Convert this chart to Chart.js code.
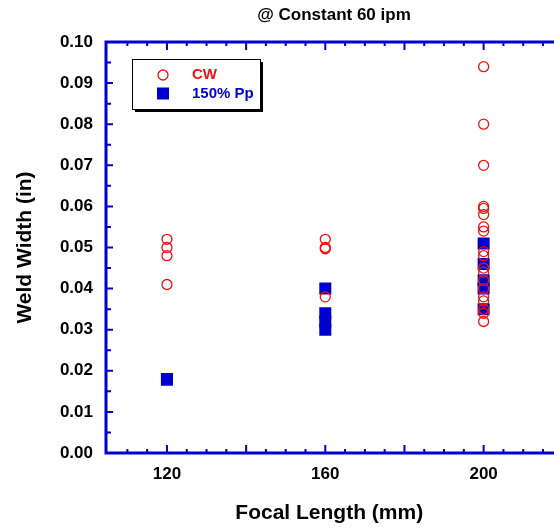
<!DOCTYPE html>
<html>
<head>
<meta charset="utf-8">
<script src="https://cdn.jsdelivr.net/npm/chart.js@4.4.1/dist/chart.umd.min.js"></script>
<style>
html, body { margin: 0; padding: 0; background: #fff; overflow: hidden; }
</style>
</head>
<body>
<canvas id="myChart" width="561" height="529"></canvas>
<script>
Chart.defaults.font.family = 'Arial, "Liberation Sans", sans-serif';
Chart.defaults.font.weight = 'bold';
Chart.defaults.color = '#000';

// focal length groups and the widths measured at each one
var focalLengths = [120, 160, 200];
var cwWidth = [
  [0.052, 0.050, 0.048, 0.041],
  [0.052, 0.050, 0.0497, 0.038],
  [0.094, 0.080, 0.070, 0.060, 0.0595, 0.058, 0.055, 0.054, 0.049, 0.048,
   0.045, 0.044, 0.042, 0.040, 0.038, 0.037, 0.035, 0.034, 0.032]
];
var ppWidth = [
  [0.018, 0.0178],
  [0.040, 0.034, 0.032, 0.030],
  [0.051, 0.046, 0.042, 0.040, 0.035]
];
var xTicks = [120, 160, 200];
var yTicks = [0, 0.01, 0.02, 0.03, 0.04, 0.05, 0.06, 0.07, 0.08, 0.09, 0.10];

var blue = '#0000cc';
var red = '#ee1111';

function toPoints(groups) {
  var pts = [];
  groups.forEach(function (g, i) {
    g.forEach(function (v) { pts.push({ x: focalLengths[i], y: v }); });
  });
  return pts;
}

// frame with inward tick marks
var framePlugin = {
  id: 'frame',
  beforeDatasetsDraw: function (chart) {
    var c = chart.ctx, a = chart.chartArea;
    var xs = chart.scales.x, ys = chart.scales.y;
    c.save();
    c.strokeStyle = blue;
    c.lineWidth = 2;
    c.beginPath();
    for (var v = 110; v <= xs.max; v += 5) {
      var px = xs.getPixelForValue(v);
      var len = v % 20 === 0 ? 8 : 4;
      c.moveTo(px, a.bottom); c.lineTo(px, a.bottom - len);
      c.moveTo(px, a.top); c.lineTo(px, a.top + len);
    }
    for (var i = 1; i < 20; i++) {
      var py = ys.getPixelForValue(i * 0.005);
      var l = i % 2 === 0 ? 7 : 5;
      c.moveTo(a.left, py); c.lineTo(a.left + l, py);
    }
    c.stroke();
    c.lineWidth = 3;
    c.beginPath();
    c.moveTo(a.right + 8, a.top);
    c.lineTo(a.left, a.top);
    c.lineTo(a.left, a.bottom);
    c.lineTo(a.right + 8, a.bottom);
    c.stroke();

    // title over the plot
    c.fillStyle = '#000';
    c.font = 'bold 17px Arial, "Liberation Sans", sans-serif';
    c.textAlign = 'center';
    c.textBaseline = 'middle';
    c.fillText('@ Constant 60 ipm', a.left + 228, 15);
    c.restore();
  }
};

var legendPlugin = {
  id: 'boxLegend',
  afterDatasetsDraw: function (chart) {
    var c = chart.ctx, a = chart.chartArea;
    var x0 = a.left + 26, y0 = a.top + 17, w = 128, h = 50;
    c.save();
    c.fillStyle = '#000';
    c.fillRect(x0 + 3, y0 + 3, w, h);
    c.fillStyle = '#fff';
    c.fillRect(x0, y0, w, h);
    c.strokeStyle = '#000';
    c.lineWidth = 1;
    c.strokeRect(x0 + 0.5, y0 + 0.5, w, h);
    c.font = 'bold 15px Arial, "Liberation Sans", sans-serif';
    c.textBaseline = 'middle';
    c.textAlign = 'left';
    var mx = a.left + 57;
    // CW
    var cy = a.top + 33;
    c.strokeStyle = red;
    c.lineWidth = 1.3;
    c.beginPath();
    c.arc(mx, cy, 5, 0, Math.PI * 2);
    c.stroke();
    c.fillStyle = red;
    c.fillText(chart.data.datasets[0].label, a.left + 86, cy);
    // 150% Pp
    cy = a.top + 51.5;
    c.fillStyle = blue;
    c.fillRect(mx - 6, cy - 6, 12, 12);
    c.fillText(chart.data.datasets[1].label, a.left + 86, cy);
    c.restore();
  }
};

var ctx = document.getElementById('myChart');

var myChart = new Chart(ctx, {
  type: 'scatter',
  data: {
    datasets: [{
      label: 'CW',
      data: toPoints(cwWidth),
      pointStyle: 'circle',
      pointRadius: 5,
      borderColor: red,
      backgroundColor: 'rgba(0,0,0,0)',
      borderWidth: 1.3
    }, {
      label: '150% Pp',
      data: toPoints(ppWidth),
      pointStyle: 'rect',
      pointRadius: 8.5,
      borderColor: blue,
      backgroundColor: blue,
      borderWidth: 0
    }]
  },
  options: {
    responsive: false,
    animation: false,
    layout: { padding: { top: 42, left: 0, right: 0, bottom: 0 } },
    plugins: {
      legend: { display: false },
      tooltip: { enabled: false },
      title: { display: false }
    },
    scales: {
      x: {
        type: 'linear',
        min: 104.6,
        max: 217.4,
        grid: { display: false },
        border: { display: false },
        afterBuildTicks: function (s) { s.ticks = xTicks.map(function (v) { return { value: v }; }); },
        afterFit: function (s) { s.height = 76; s.paddingLeft = 0; s.paddingRight = 0; },
        ticks: {
          padding: 3,
          font: { size: 17, weight: 'bold' },
          color: '#000'
        },
        title: {
          display: true,
          text: 'Focal Length (mm)',
          font: { size: 21, weight: 'bold' },
          color: '#000',
          padding: { top: 0, bottom: 3 }
        }
      },
      y: {
        type: 'linear',
        min: 0,
        max: 0.1,
        grid: { display: false },
        border: { display: false },
        afterBuildTicks: function (s) { s.ticks = yTicks.map(function (v) { return { value: v }; }); },
        afterFit: function (s) { s.width = 106; s.paddingTop = 0; s.paddingBottom = 0; },
        ticks: {
          padding: 5,
          font: { size: 17, weight: 'bold' },
          color: '#000',
          callback: function (v) { return Number(v).toFixed(2); }
        },
        title: {
          display: true,
          text: 'Weld Width (in)',
          font: { size: 21, weight: 'bold' },
          color: '#000',
          padding: { top: 13, bottom: 0 }
        }
      }
    }
  },
  plugins: [framePlugin, legendPlugin]
});
</script>
</body>
</html>
